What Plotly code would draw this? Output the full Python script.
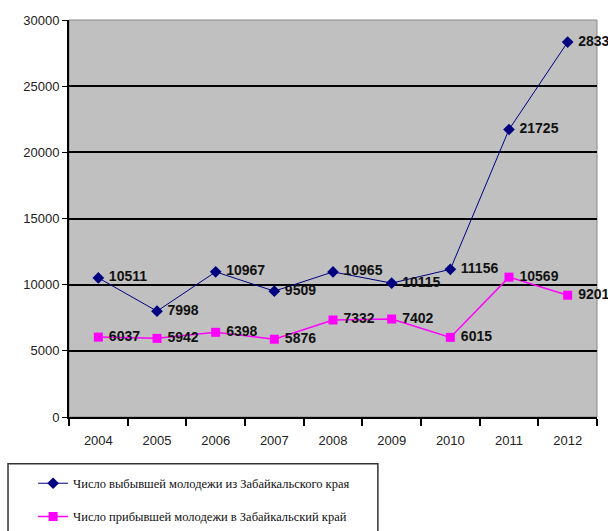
import plotly.graph_objects as go

years = ["2004", "2005", "2006", "2007", "2008", "2009", "2010", "2011", "2012"]
left_youth = [10511, 7998, 10967, 9509, 10965, 10115, 11156, 21725, 28331]
arrived_youth = [6037, 5942, 6398, 5876, 7332, 7402, 6015, 10569, 9201]
name_left = "Число выбывшей молодежи из Забайкальского края"
name_arrived = "Число прибывшей молодежи в Забайкальский край"
y_ticks = [0, 5000, 10000, 15000, 20000, 25000, 30000]

label_font = dict(family="Liberation Sans, Arial", size=14,
                  color="#111111", weight="bold")

fig = go.Figure()
fig.add_trace(go.Scatter(
    x=years, y=left_youth, name=name_left, legendgroup="a",
    mode="lines+markers+text", text=[" " + str(v) for v in left_youth],
    textposition="middle right", textfont=label_font,
    line=dict(color="#000080", width=1),
    marker=dict(symbol="diamond", size=9, color="#000080"),
    cliponaxis=False,
))
fig.add_trace(go.Scatter(
    x=years, y=arrived_youth, name=name_arrived, legendgroup="b",
    mode="lines+markers+text", text=[" " + str(v) for v in arrived_youth],
    textposition="middle right", textfont=label_font,
    line=dict(color="#ff00ff", width=1.5),
    marker=dict(symbol="square", size=9, color="#ff00ff"),
    cliponaxis=False,
))

fig.update_layout(
    width=608, height=531,
    margin=dict(l=69, r=11, t=20, b=114, autoexpand=False),
    paper_bgcolor="white", plot_bgcolor="#c0c0c0",
    font=dict(family="Liberation Sans, Arial", size=13, color="#222222"),
    showlegend=True,
    legend=dict(
        x=-0.068, y=-0.13, xanchor="left", yanchor="top",
        font=dict(family="Liberation Serif, Times New Roman", size=12.5, color="#111111"),
        bgcolor="rgba(0,0,0,0)", borderwidth=0,
        traceorder="grouped", tracegroupgap=14,
        itemwidth=30,
    ),
    xaxis=dict(
        type="category", tickson="boundaries", ticks="outside", ticklen=7,
        tickcolor="black", tickwidth=1.5, showline=True, linecolor="black", linewidth=2,
        showgrid=False, tickfont=dict(size=13, color="#222222"), range=[-0.5, 8.5],
        ticklabelstandoff=10, automargin=False,
    ),
    yaxis=dict(
        range=[0, 30000], tickvals=y_ticks, ticktext=[str(v) for v in y_ticks],
        ticks="outside", ticklen=5,
        tickcolor="black", showline=True, linecolor="black", linewidth=2,
        showgrid=True, gridcolor="black", gridwidth=2, zeroline=False,
        tickfont=dict(size=13, color="#222222"), automargin=False,
    ),
    shapes=[
        dict(type="rect", xref="paper", yref="paper", x0=0, x1=1, y0=0, y1=1,
             line=dict(color="#888888", width=1), layer="below"),
        dict(type="rect", xref="paper", yref="paper", x0=-0.1155, x1=0.585, y0=-0.118, y1=-0.30,
             line=dict(color="#333333", width=1.5)),
    ],
)

fig.write_html("out.html", config={"displayModeBar": False},
               post_script="document.body.style.margin='0';document.body.style.overflow='hidden';")
